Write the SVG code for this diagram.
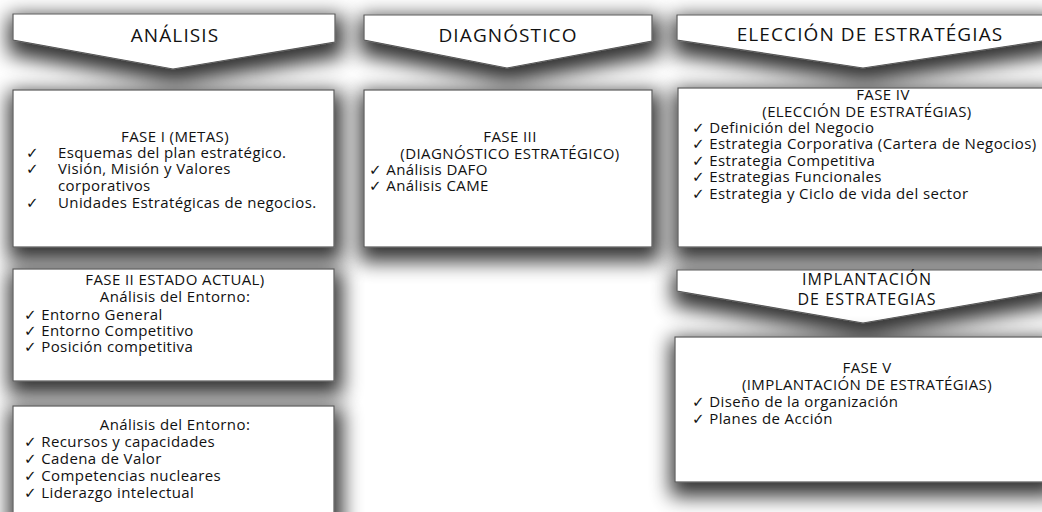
<svg xmlns="http://www.w3.org/2000/svg" width="1042" height="512" viewBox="0 0 1042 512">
<style>
text{font-family:"Open Sans","DejaVu Sans",sans-serif;fill:#111}
.t{font-size:19px;letter-spacing:1.1px;text-anchor:middle}
.t2{font-size:16px;letter-spacing:1.1px;text-anchor:middle}
.b{font-size:15px;letter-spacing:0.4px}
.c{text-anchor:middle}
.shape{fill:#fff;stroke:#5a5a5a;stroke-width:1.2}
</style>
<defs>
<filter id="sh" x="-25%" y="-50%" width="150%" height="200%">
<feMorphology in="SourceAlpha" operator="dilate" radius="6"/>
<feGaussianBlur stdDeviation="10"/>
<feOffset dx="2" dy="8" result="o"/>
<feComponentTransfer><feFuncA type="linear" slope="0.8"/></feComponentTransfer>
<feMerge><feMergeNode/><feMergeNode in="SourceGraphic"/></feMerge>
</filter>
</defs>
<rect width="1042" height="512" fill="#fff"/>
<g id="connectors"></g>
<g id="arrow-analisis">
<polygon class="shape" filter="url(#sh)" points="13,14 335,14 335,42 173,69 13,40"/>
<text class="t" x="175" y="42">ANÁLISIS</text>
</g>
<g id="arrow-diagnostico">
<polygon class="shape" filter="url(#sh)" points="364,15 652,15 652,41 507,68 364,40"/>
<text class="t" x="508" y="42">DIAGNÓSTICO</text>
</g>
<g id="arrow-eleccion">
<polygon class="shape" filter="url(#sh)" points="677,15 1049,15 1049,40 863,68 677,40"/>
<text class="t" x="870" y="41">ELECCIÓN DE ESTRATÉGIAS</text>
</g>
<g id="fase1">
<rect class="shape" filter="url(#sh)" x="13" y="90" width="321" height="157"/>
<text class="b c" x="175" y="142">FASE I (METAS)</text>
<text class="b" x="26" y="158">✓</text><text class="b" x="58" y="158">Esquemas del plan estratégico.</text>
<text class="b" x="26" y="174">✓</text><text class="b" x="58" y="174">Visión, Misión y Valores</text>
<text class="b" x="58" y="191">corporativos</text>
<text class="b" x="26" y="208">✓</text><text class="b" x="58" y="208">Unidades Estratégicas de negocios.</text>
</g>
<g id="fase3">
<rect class="shape" filter="url(#sh)" x="364" y="90" width="288" height="157"/>
<text class="b c" x="510" y="142">FASE III</text>
<text class="b c" x="510" y="159">(DIAGNÓSTICO ESTRATÉGICO)</text>
<text class="b" x="369" y="175">✓ Análisis DAFO</text>
<text class="b" x="369" y="191">✓ Análisis CAME</text>
</g>
<g id="fase4">
<rect class="shape" filter="url(#sh)" x="678" y="88" width="372" height="159"/>
<text class="b c" x="883" y="100">FASE IV</text>
<text class="b c" x="867" y="117">(ELECCIÓN DE ESTRATÉGIAS)</text>
<text class="b" x="692" y="133">✓ Definición del Negocio</text>
<text class="b" x="692" y="149">✓ Estrategia Corporativa (Cartera de Negocios)</text>
<text class="b" x="692" y="166">✓ Estrategia Competitiva</text>
<text class="b" x="692" y="182">✓ Estrategias Funcionales</text>
<text class="b" x="692" y="199">✓ Estrategia y Ciclo de vida del sector</text>
</g>
<g id="fase2">
<rect class="shape" filter="url(#sh)" x="13" y="269" width="321" height="112"/>
<text class="b c" x="175" y="285">FASE II ESTADO ACTUAL)</text>
<text class="b c" x="175" y="302">Análisis del Entorno:</text>
<text class="b" x="24" y="320">✓ Entorno General</text>
<text class="b" x="24" y="336">✓ Entorno Competitivo</text>
<text class="b" x="24" y="352">✓ Posición competitiva</text>
</g>
<g id="recursos">
<rect class="shape" filter="url(#sh)" x="13" y="406" width="321" height="120"/>
<text class="b c" x="175" y="430">Análisis del Entorno:</text>
<text class="b" x="24" y="447">✓ Recursos y capacidades</text>
<text class="b" x="24" y="464">✓ Cadena de Valor</text>
<text class="b" x="24" y="481">✓ Competencias nucleares</text>
<text class="b" x="24" y="498">✓ Liderazgo intelectual</text>
</g>
<g id="arrow-implantacion">
<polygon class="shape" filter="url(#sh)" points="677,270 1049,270 1049,291 863,323 677,291"/>
<text class="t2" x="867" y="285">IMPLANTACIÓN</text>
<text class="t2" x="867" y="305">DE ESTRATEGIAS</text>
</g>
<g id="fase5">
<rect class="shape" filter="url(#sh)" x="675" y="337" width="374" height="145"/>
<text class="b c" x="867" y="373">FASE V</text>
<text class="b c" x="867" y="390">(IMPLANTACIÓN DE ESTRATÉGIAS)</text>
<text class="b" x="692" y="407">✓ Diseño de la organización</text>
<text class="b" x="692" y="424">✓ Planes de Acción</text>
</g>
</svg>
